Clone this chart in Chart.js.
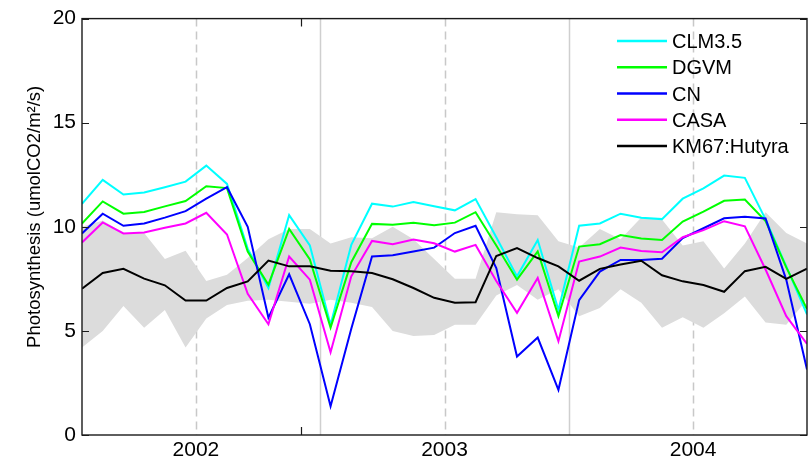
<!DOCTYPE html>
<html>
<head>
<meta charset="utf-8">
<script src="https://cdn.jsdelivr.net/npm/chart.js@4.4.1/dist/chart.umd.min.js"></script>
<style>
  html, body { margin: 0; padding: 0; background: #fff; }
  #wrap { width: 812px; height: 457px; }
</style>
</head>
<body>
<div id="wrap"><canvas id="gppChart" width="812" height="457"></canvas></div>
<script>
// monthly means, Jul 2001 - Jun 2004
const months = [
  '2001-07', '2001-08', '2001-09', '2001-10', '2001-11', '2001-12',
  '2002-01', '2002-02', '2002-03', '2002-04', '2002-05', '2002-06',
  '2002-07', '2002-08', '2002-09', '2002-10', '2002-11', '2002-12',
  '2003-01', '2003-02', '2003-03', '2003-04', '2003-05', '2003-06',
  '2003-07', '2003-08', '2003-09', '2003-10', '2003-11', '2003-12',
  '2004-01', '2004-02', '2004-03', '2004-04', '2004-05', '2004-06'
];

const clm35 = [11.1, 12.25, 11.55, 11.65, 11.9, 12.17, 12.94, 12.06, 8.95, 7.06, 10.56, 9.1,
  5.3, 9.13, 11.11, 10.97, 11.19, 10.99, 10.79, 11.33, 9.5, 7.62, 9.37, 6.0,
  10.05, 10.16, 10.63, 10.44, 10.37, 11.35, 11.85, 12.46, 12.35, 10.36, 8.1, 5.79];
const dgvm = [10.16, 11.22, 10.63, 10.71, 10.98, 11.24, 11.95, 11.86, 8.81, 7.22, 9.9, 8.43,
  5.16, 8.3, 10.14, 10.1, 10.2, 10.08, 10.2, 10.7, 9.1, 7.46, 8.82, 5.71,
  9.05, 9.16, 9.6, 9.44, 9.37, 10.25, 10.73, 11.25, 11.31, 10.28, 8.05, 6.05];
const cn = [9.68, 10.63, 10.05, 10.16, 10.44, 10.75, 11.35, 11.9, 10.0, 5.63, 7.72, 5.32,
  1.38, 5.1, 8.57, 8.63, 8.81, 9.0, 9.7, 10.05, 8.02, 3.77, 4.68, 2.17,
  6.48, 7.85, 8.41, 8.41, 8.47, 9.46, 9.93, 10.41, 10.48, 10.4, 7.45, 3.15];
const casa = [9.25, 10.21, 9.68, 9.73, 9.95, 10.16, 10.67, 9.63, 6.78, 5.32, 8.57, 7.46,
  3.97, 7.62, 9.32, 9.16, 9.39, 9.21, 8.81, 9.13, 7.4, 5.87, 7.54, 4.5,
  8.33, 8.57, 9.0, 8.84, 8.78, 9.5, 9.84, 10.27, 10.02, 7.95, 5.71, 4.38];
const km67 = [7.03, 7.78, 7.98, 7.51, 7.19, 6.46, 6.46, 7.06, 7.38, 8.38, 8.1, 8.1,
  7.89, 7.87, 7.78, 7.48, 7.06, 6.59, 6.35, 6.38, 8.6, 8.98, 8.5, 8.1,
  7.41, 7.98, 8.19, 8.37, 7.67, 7.38, 7.2, 6.88, 7.87, 8.08, 7.5, 7.99];

// observed spread (shaded)
const bandHigh = [10.0, 10.3, 9.7, 9.7, 8.45, 8.85, 7.4, 7.7, 8.5, 9.4, 9.9, 9.9,
  9.2, 9.5, 9.45, 10.0, 9.4, 8.45, 7.5, 7.5, 10.7, 10.6, 10.55, 9.3,
  9.0, 9.9, 9.4, 10.45, 10.35, 9.1, 9.3, 8.0, 9.2, 10.7, 9.7, 9.2];
const bandLow = [4.2, 5.0, 6.2, 5.15, 6.0, 4.2, 5.6, 6.25, 6.45, 6.5, 6.4, 6.3,
  6.5, 6.35, 6.15, 5.0, 4.75, 4.8, 5.3, 5.3, 6.7, 7.2, 6.5, 7.0,
  5.7, 6.1, 7.0, 6.35, 5.15, 5.65, 5.15, 5.85, 6.65, 5.4, 5.3, 6.5];

const yearLabels = ['2002', '2003', '2004'];
const midYears = ['2002', '2003'];
const yTicks = [0, 5, 10, 15, 20];
const xTickMarks = [10.55];

const FONT = '"Liberation Sans", Arial, Helvetica, sans-serif';

// month index from Jul 2001
function monthPos(m) {
  const [y, mo] = m.split('-').map(Number);
  return (y - 2001) * 12 + (mo - 7);
}
const yearStart = y => monthPos(y + '-01') - 0.5;
const midYear = y => monthPos(y + '-07') - 0.5;

const toPoints = vals => months.map((m, i) => ({ x: monthPos(m), y: vals[i] }));

function line(label, vals, color, order) {
  return {
    label: label,
    data: toPoints(vals),
    borderColor: color,
    backgroundColor: color,
    borderWidth: 2,
    pointRadius: 0,
    tension: 0,
    fill: false,
    order: order,
    inLegend: true
  };
}

const gridLines = {
  id: 'gridLines',
  beforeDatasetsDraw(chart) {
    const { ctx, chartArea: a, scales: { x } } = chart;
    ctx.save();
    ctx.lineWidth = 1.5;
    ctx.strokeStyle = '#c8c8c8';
    ctx.setLineDash([8, 5]);
    yearLabels.forEach(y => {
      const px = Math.round(x.getPixelForValue(yearStart(y))) + 0.5;
      ctx.beginPath(); ctx.moveTo(px, a.top); ctx.lineTo(px, a.bottom); ctx.stroke();
    });
    ctx.setLineDash([]);
    ctx.strokeStyle = '#cfcfcf';
    midYears.forEach(y => {
      const px = Math.round(x.getPixelForValue(midYear(y))) + 0.5;
      ctx.beginPath(); ctx.moveTo(px, a.top); ctx.lineTo(px, a.bottom); ctx.stroke();
    });
    ctx.restore();
  }
};

const frame = {
  id: 'frame',
  afterDatasetsDraw(chart) {
    const { ctx, chartArea: a, scales: { x, y } } = chart;
    ctx.save();
    ctx.strokeStyle = '#1a1a1a';
    ctx.lineWidth = 1.4;
    ctx.strokeRect(a.left, a.top, a.right - a.left, a.bottom - a.top);

    // inward tick marks
    ctx.lineWidth = 1.2;
    yTicks.forEach(v => {
      const py = Math.round(y.getPixelForValue(v)) + 0.5;
      ctx.beginPath();
      ctx.moveTo(a.left, py); ctx.lineTo(a.left + 7, py);
      ctx.moveTo(a.right, py); ctx.lineTo(a.right - 7, py);
      ctx.stroke();
    });
    xTickMarks.forEach(v => {
      const px = Math.round(x.getPixelForValue(v)) + 0.5;
      ctx.beginPath();
      ctx.moveTo(px, a.bottom); ctx.lineTo(px, a.bottom - 8);
      ctx.moveTo(px, a.top); ctx.lineTo(px, a.top + 8);
      ctx.stroke();
    });

    // legend
    const items = chart.data.datasets.filter(d => d.inLegend);
    ctx.font = '20px ' + FONT;
    ctx.textBaseline = 'middle';
    ctx.textAlign = 'left';
    items.forEach((d, i) => {
      const ry = a.top + 22.5 + i * 26.2;
      ctx.strokeStyle = d.borderColor;
      ctx.lineWidth = 2.5;
      ctx.beginPath(); ctx.moveTo(a.right - 190, ry); ctx.lineTo(a.right - 140, ry); ctx.stroke();
      ctx.fillStyle = '#000';
      ctx.fillText(d.label, a.right - 135, ry + 1.5);
    });

    // y axis title
    ctx.translate(35, (a.top + a.bottom) / 2 - 10);
    ctx.rotate(-Math.PI / 2);
    ctx.textAlign = 'center';
    ctx.font = '18.5px ' + FONT;
    ctx.fillText('Photosynthesis (umolCO2/m\u00b2/s)', 0, 0);
    ctx.restore();
  }
};

new Chart(document.getElementById('gppChart'), {
  type: 'line',
  data: {
    datasets: [
      line('CLM3.5', clm35, '#00ffff', 4),
      line('DGVM', dgvm, '#00ff00', 3),
      line('CN', cn, '#0000ff', 2),
      line('CASA', casa, '#ff00ff', 1),
      line('KM67:Hutyra', km67, '#000000', 0),
      {
        data: toPoints(bandHigh),
        borderWidth: 0,
        pointRadius: 0,
        backgroundColor: '#dcdcdc',
        fill: '+1',
        order: 5
      },
      {
        data: toPoints(bandLow),
        borderWidth: 0,
        pointRadius: 0,
        fill: false,
        order: 6
      }
    ]
  },
  options: {
    responsive: false,
    animation: false,
    devicePixelRatio: 1,
    layout: { padding: { top: 15, right: 5, left: 0, bottom: 0 } },
    plugins: {
      legend: { display: false },
      tooltip: { enabled: false },
      title: { display: false }
    },
    scales: {
      x: {
        type: 'linear',
        min: 0,
        max: months.length - 1,
        grid: { display: false, drawTicks: false },
        border: { display: false },
        afterBuildTicks: scale => { scale.ticks = yearLabels.map(y => ({ value: yearStart(y) })); },
        afterFit: scale => { scale.height = 22; },
        ticks: {
          autoSkip: false,
          maxRotation: 0,
          padding: 3,
          color: '#000',
          font: { family: FONT, size: 21 },
          callback: (v, i) => yearLabels[i]
        }
      },
      y: {
        min: 0,
        max: 20,
        grid: { display: false, drawTicks: false },
        border: { display: false },
        afterBuildTicks: scale => { scale.ticks = yTicks.map(v => ({ value: v })); },
        afterFit: scale => { scale.width = 82; },
        ticks: {
          padding: 6,
          color: '#000',
          font: { family: FONT, size: 21 }
        }
      }
    }
  },
  plugins: [gridLines, frame]
});
</script>
</body>
</html>
